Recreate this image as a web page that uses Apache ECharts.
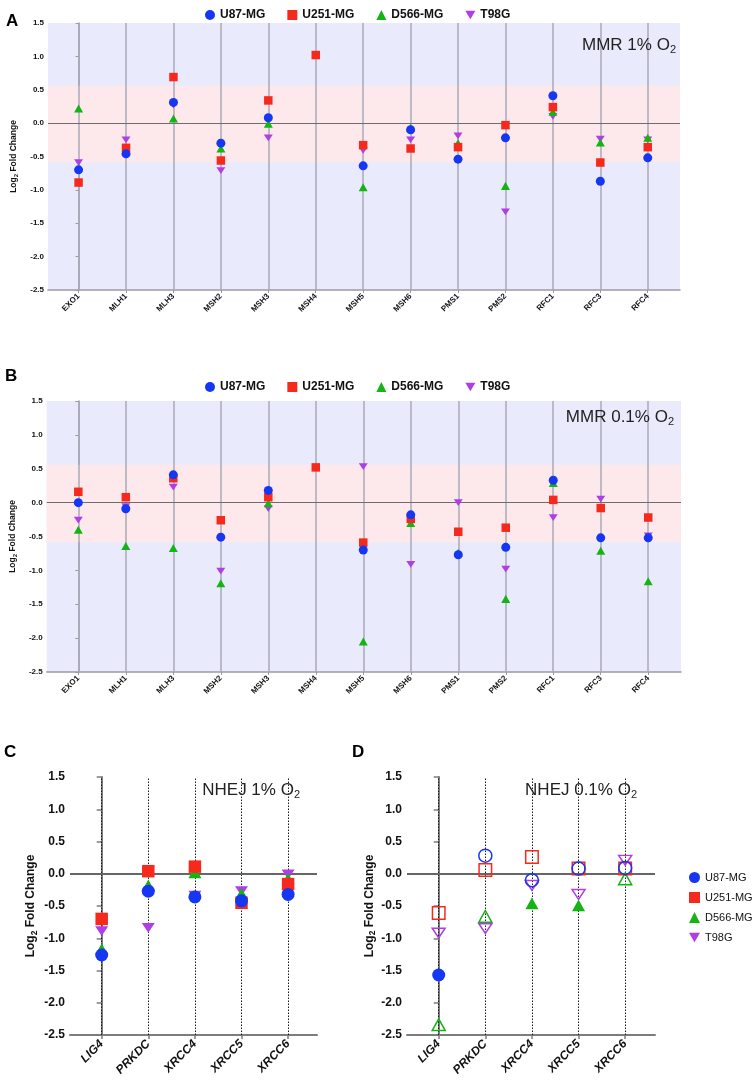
<!DOCTYPE html>
<html lang="en">
    <head>
        <meta charset="UTF-8" />
        <title>MMR / NHEJ fold change</title>
        <script src="https://cdn.jsdelivr.net/npm/echarts@6/dist/echarts.min.js"></script>
        <style>
            body { margin: 0; background: #fff; }
            #chart { width: 752px; height: 1081px; }
        </style>
    </head>
    <body>
        <div id="chart"></div>
        <script>
            // categories and cell lines
            const catsMMR = ["EXO1", "MLH1", "MLH3", "MSH2", "MSH3", "MSH4", "MSH5", "MSH6", "PMS1", "PMS2", "RFC1", "RFC3", "RFC4"];
            const catsNHEJ = ["LIG4", "PRKDC", "XRCC4", "XRCC5", "XRCC6"];
            const cellLines = ["U87-MG", "U251-MG", "D566-MG", "T98G"];

            // panel A - MMR 1% O2
            const u87A = [-0.70, -0.46, 0.31, -0.30, 0.08, null, -0.64, -0.10, -0.54, -0.22, 0.41, -0.87, -0.52];
            const u251A = [-0.89, -0.37, 0.69, -0.56, 0.34, 1.02, -0.33, -0.38, -0.36, -0.03, 0.24, -0.59, -0.36];
            const d566A = [0.22, -0.42, 0.07, -0.38, -0.01, null, -0.96, -0.07, -0.30, -0.94, 0.17, -0.29, -0.22];
            const t98A = [-0.59, -0.25, 0.27, -0.71, -0.22, null, -0.41, -0.25, -0.19, -1.33, 0.10, -0.24, -0.25];

            // panel B - MMR 0.1% O2
            const u87B = [0.0, -0.09, 0.41, -0.51, 0.18, null, -0.70, -0.18, -0.77, -0.66, 0.33, -0.52, -0.52];
            const u251B = [0.16, 0.08, 0.36, -0.26, 0.08, 0.52, -0.59, -0.24, -0.43, -0.37, 0.04, -0.08, -0.22];
            const d566B = [-0.40, -0.64, -0.67, -1.19, -0.01, null, -2.05, -0.30, -0.74, -1.42, 0.29, -0.71, -1.16];
            const t98B = [-0.26, -0.06, 0.23, -1.01, -0.09, null, 0.53, -0.91, 0.0, -0.98, -0.22, 0.05, -0.49];

            // panel C - NHEJ 1% O2
            const u87C = [-1.26, -0.27, -0.36, -0.42, -0.32];
            const u251C = [-0.70, 0.04, 0.11, -0.45, -0.16];
            const d566C = [-1.17, -0.18, 0.02, -0.31, -0.08];
            const t98C = [-0.89, -0.84, -0.34, -0.27, -0.01];

            // panel D - NHEJ 0.1% O2 (filled = significant, open = not)
            const u87D = [-1.57, 0.28, -0.10, 0.08, 0.09];
            const u251D = [-0.61, 0.06, 0.26, 0.08, 0.08];
            const d566D = [-2.34, -0.66, -0.46, -0.49, -0.08];
            const t98D = [-0.92, -0.85, -0.18, -0.32, 0.21];
            const u87DSig = [true, false, false, false, false];
            const u251DSig = [false, false, false, false, false];
            const d566DSig = [false, false, true, true, false];
            const t98DSig = [false, false, false, false, false];

            const colors = ["#1536f2", "#f52a1c", "#13b413", "#b03ee6"];
            const symbols = ["circle", "rect", "triangle", "path://M0,0L10,0L5,8.66Z"];
            const font = "Liberation Sans, Arial, sans-serif";

            const chart = echarts.init(document.getElementById("chart"), null, { renderer: "canvas" });

            const grids = [
                { left: 48, top: 23, width: 632, height: 267 },
                { left: 45, top: 401, width: 636, height: 271 },
                { left: 70, top: 777, width: 247, height: 258 },
                { left: 407, top: 777, width: 248, height: 258 },
            ];
            const xRanges = [[-0.645, 12.68], [-0.666, 12.69], [-0.68, 4.62], [-0.68, 4.64]];
            const cats = [catsMMR, catsMMR, catsNHEJ, catsNHEJ];

            const nameRich = small => ({
                b: { fontSize: small ? 8.5 : 12, fontWeight: "bold", fontFamily: font, color: "#111" },
                s: { fontSize: small ? 6 : 8.5, fontWeight: "bold", fontFamily: font, color: "#111", padding: [small ? 5 : 7, 0, 0, 0] },
            });

            const xAxis = grids.map((g, i) => {
                const small = i < 2;
                const idx = cats[i].map((c, k) => k);
                return {
                    gridIndex: i,
                    type: "value",
                    min: xRanges[i][0],
                    max: xRanges[i][1],
                    splitLine: { show: false },
                    axisLine: { show: true, onZero: false, lineStyle: { color: small ? "#9a9aa6" : "#7d7d7d", width: small ? 1.5 : 2 } },
                    axisTick: { show: true, customValues: idx, length: small ? 3 : 4, lineStyle: { color: small ? "#9a9aa6" : "#7d7d7d", width: small ? 1 : 1.5 } },
                    axisLabel: {
                        customValues: idx,
                        formatter: v => cats[i][Math.round(v)],
                        rotate: 45,
                        margin: small ? 5 : 7,
                        fontSize: small ? 8 : 12,
                        fontWeight: "bold",
                        fontStyle: small ? "normal" : "italic",
                        fontFamily: font,
                        color: "#111",
                    },
                };
            });

            const yAxis = grids.map((g, i) => {
                const small = i < 2;
                return {
                    gridIndex: i,
                    type: "value",
                    min: -2.5,
                    max: 1.5,
                    interval: 0.5,
                    splitLine: { show: false },
                    axisLine: { show: true, lineStyle: { color: small ? "#9a9aa6" : "#7d7d7d", width: small ? 1.5 : 2 } },
                    axisTick: { show: true, length: small ? 3 : 5, lineStyle: { color: small ? "#9a9aa6" : "#7d7d7d", width: small ? 1 : 1.5 } },
                    axisLabel: {
                        formatter: v => v.toFixed(1),
                        margin: small ? 4 : 5,
                        fontSize: small ? 8 : 12,
                        fontWeight: "bold",
                        fontFamily: font,
                        color: "#111",
                    },
                    name: "{b|Log}{s|2}{b| Fold Change}",
                    nameLocation: "middle",
                    nameRotate: 90,
                    nameGap: [23, 21, 31, 29][i],
                    nameTextStyle: { rich: nameRich(small) },
                };
            });

            // background bands, vertical category lines and zero line
            const helperSeries = grids.map((g, i) => {
                const small = i < 2;
                const vLines = cats[i].map((c, k) => ({
                    xAxis: k,
                    lineStyle: small ? { color: "#a9a9b8", width: 1.5, type: "solid" } : { color: "#1a1a1a", width: 1, type: [1.5, 1.5] },
                }));
                const zero = { yAxis: 0, lineStyle: { color: small ? "#6d6d6d" : "#666", width: small ? 1 : 2, type: "solid" } };
                return {
                    type: "scatter",
                    xAxisIndex: i,
                    yAxisIndex: i,
                    data: [],
                    silent: true,
                    z: 1,
                    markArea: small
                        ? { silent: true, itemStyle: { color: "#fde9ec" }, data: [[{ yAxis: -0.585 }, { yAxis: 0.56 }]] }
                        : undefined,
                    markLine: { silent: true, symbol: "none", label: { show: false }, animation: false, data: vLines.concat([zero]) },
                };
            });

            const panelData = [
                [u87A, u251A, d566A, t98A],
                [u87B, u251B, d566B, t98B],
                [u87C, u251C, d566C, t98C],
                [u87D, u251D, d566D, t98D],
            ];
            const sigD = [u87DSig, u251DSig, d566DSig, t98DSig];

            const pointSeries = [];
            panelData.forEach((sets, p) => {
                const small = p < 2;
                sets.forEach((vals, s) => {
                    const data = [];
                    vals.forEach((v, k) => {
                        if (v === null) return;
                        if (p === 3 && !sigD[s][k]) {
                            data.push({ value: [k, v], itemStyle: { color: "rgba(0,0,0,0)", borderColor: colors[s], borderWidth: 1.5 } });
                        } else {
                            data.push([k, v]);
                        }
                    });
                    const baseSize = small ? [9, 8.5, 9, 9] : [13, 12.5, 13, 13];
                    pointSeries.push({
                        name: cellLines[s],
                        type: "scatter",
                        xAxisIndex: p,
                        yAxisIndex: p,
                        symbol: symbols[s],
                        symbolKeepAspect: true,
                        symbolSize: s === 3 ? [baseSize[s], baseSize[s] * 0.866] : s === 2 ? [baseSize[s], baseSize[s] * 0.9] : baseSize[s],
                        itemStyle: { color: colors[s], opacity: 1 },
                        data: data,
                        z: 5 + (3 - s),
                    });
                });
            });

            const legendText = { fontSize: 12, fontWeight: "bold", fontFamily: font, color: "#111" };

            const panelTitle = (x, y, main) => ({
                type: "text",
                x: x,
                y: y,
                style: {
                    text: "{t|" + main + "}{s|2}",
                    align: "right",
                    verticalAlign: "middle",
                    rich: {
                        t: { fontSize: 17, fontFamily: font, fill: "#222", color: "#222" },
                        s: { fontSize: 11, fontFamily: font, fill: "#222", color: "#222", padding: [9, 0, 0, 0] },
                    },
                },
                z: 20,
            });

            const letter = (x, y, t) => ({
                type: "text",
                x: x,
                y: y,
                style: { text: t, fontSize: 17, fontWeight: "bold", fontFamily: font, fill: "#000", verticalAlign: "middle" },
            });

            chart.setOption({
                animation: false,
                grid: grids.map((g, i) => Object.assign({ show: i < 2, backgroundColor: "#e9ebfd", borderWidth: 0 }, g)),
                xAxis: xAxis,
                yAxis: yAxis,
                legend: [
                    {
                        left: 200, top: 4, itemWidth: 10, itemHeight: 10, itemGap: 22,
                        data: cellLines, textStyle: legendText, selectedMode: false,
                    },
                    {
                        left: 200, top: 376, itemWidth: 10, itemHeight: 10, itemGap: 22,
                        data: cellLines, textStyle: legendText, selectedMode: false,
                    },
                    {
                        orient: "vertical", left: 684, top: 867, itemWidth: 11, itemHeight: 11, itemGap: 9,
                        data: cellLines, selectedMode: false,
                        textStyle: { fontSize: 11, fontFamily: font, color: "#111" },
                    },
                ],
                graphic: [
                    letter(6, 21, "A"),
                    letter(5, 376, "B"),
                    letter(4, 752, "C"),
                    letter(352, 752, "D"),
                    panelTitle(676, 45, "MMR 1% O"),
                    panelTitle(674, 417, "MMR 0.1% O"),
                    panelTitle(300, 790, "NHEJ 1% O"),
                    panelTitle(637, 790, "NHEJ 0.1% O"),
                ],
                series: helperSeries.concat(pointSeries),
            });
        </script>
    </body>
</html>
